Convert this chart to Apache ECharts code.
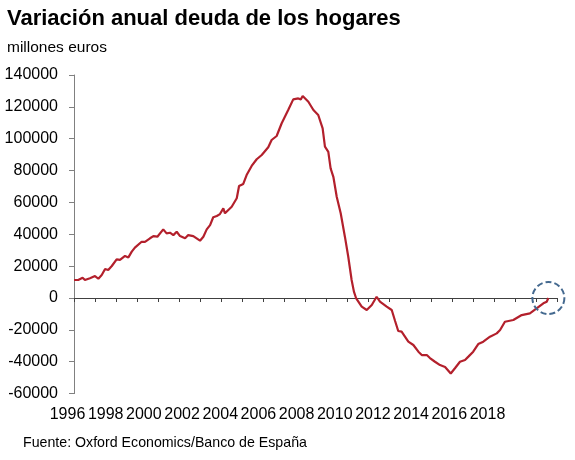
<!DOCTYPE html>
<html>
<head>
<meta charset="utf-8">
<script src="https://cdn.jsdelivr.net/npm/echarts@6/dist/echarts.min.js"></script>
<style>html,body{margin:0;padding:0;background:#fff}#c{width:575px;height:460px}</style>
</head>
<body>
<div id="c"></div>
<script>
// Time in years since Jan 1996 (decimal)
const yearsSince1996 = [0.00,0.20,0.41,0.52,0.76,1.00,1.16,1.32,1.48,1.63,1.80,2.03,2.19,2.43,2.59,2.75,2.90,3.22,3.38,3.62,3.78,3.97,4.25,4.41,4.57,4.73,4.89,5.05,5.29,5.44,5.68,6.00,6.16,6.32,6.48,6.63,6.80,6.95,7.11,7.19,7.51,7.75,7.86,8.06,8.22,8.46,8.70,8.94,9.25,9.41,9.65,9.89,10.20,10.44,10.68,10.80,10.89,11.16,11.40,11.63,11.84,11.95,12.11,12.22,12.35,12.51,12.70,12.90,13.06,13.22,13.33,13.43,13.70,13.94,14.18,14.41,14.57,14.89,15.13,15.29,15.44,15.60,15.68,15.92,16.16,16.40,16.56,16.80,16.95,17.19,17.43,17.67,17.94,18.14,18.38,18.62,18.78,19.01,19.25,19.49,19.81,20.13,20.29,20.52,20.92,21.32,21.71,22.03,22.35,22.51,22.59];
// Annual change in household debt, million euros
const debtChange = [11300,11300,12700,11300,12400,13800,12100,14400,18200,17600,20100,24300,23900,26400,25500,29100,31600,35300,35300,37500,38900,38500,43100,40600,41000,39500,41600,38900,37500,39500,38900,36000,38500,43100,45800,50700,51500,52700,56300,53200,57300,62600,70300,71600,77200,82900,87100,89800,94600,99200,101700,109700,118000,124700,125300,124700,126800,123200,118000,114900,106500,95000,91800,81400,76100,63600,53200,38500,25900,11300,4000,0,-5400,-7500,-4400,800,-2300,-5400,-7500,-14400,-20700,-21100,-22000,-27400,-29500,-33700,-35800,-35800,-37700,-40000,-42100,-43300,-47400,-44100,-40000,-38900,-36800,-33700,-28900,-27400,-24300,-22200,-20100,-14900,-13800,-10700,-9600,-6500,-3300,-2300,0];
const yearLabels = [1996,1998,2000,2002,2004,2006,2008,2010,2012,2014,2016,2018];
const yTicks = [-60000,-40000,-20000,0,20000,40000,60000,80000,100000,120000,140000];

const FONT = "'Liberation Sans', Arial, sans-serif";
const seriesData = yearsSince1996.map((t, i) => [t, debtChange[i]]);
const lastIdx = debtChange.length - 1;

const chart = echarts.init(document.getElementById('c'), null, {renderer: 'canvas'});
chart.setOption({
  animation: false,
  backgroundColor: '#ffffff',
  textStyle: {fontFamily: FONT},
  title: [
    {text: 'Variación anual deuda de los hogares', left: 2, top: 3,
     textStyle: {fontFamily: FONT, fontSize: 22, fontWeight: 'bold', color: '#000'}},
    {text: 'millones euros', left: 2, top: 35,
     textStyle: {fontFamily: FONT, fontSize: 15.5, fontWeight: 'normal', color: '#000'}},
    {text: 'Fuente: Oxford Economics/Banco de España', left: 18, top: 431,
     textStyle: {fontFamily: FONT, fontSize: 14.2, fontWeight: 'normal', color: '#000'}}
  ],
  grid: [
    {left: 74, right: 18, top: 75, bottom: 66.4, containLabel: false},
    {left: 67.5, right: 87.5, top: 75, bottom: 66.4, containLabel: false}
  ],
  xAxis: [
    {type: 'value', gridIndex: 0, min: 0, max: 23, interval: 1,
     axisLine: {show: true, onZero: true, lineStyle: {color: '#404040', width: 1}},
     axisTick: {show: true, inside: false, length: 4, lineStyle: {color: '#404040'}},
     axisLabel: {show: false}, splitLine: {show: false}},
    {type: 'value', gridIndex: 1, min: yearLabels[0], max: yearLabels[yearLabels.length - 1], interval: 2,
     position: 'bottom',
     axisLine: {show: false, onZero: false}, axisTick: {show: false}, splitLine: {show: false},
     axisLabel: {show: true, margin: 13, fontSize: 16, color: '#000', fontFamily: FONT,
       formatter: v => String(v)}}
  ],
  yAxis: [
    {type: 'value', gridIndex: 0, min: yTicks[0], max: yTicks[yTicks.length - 1], interval: 20000,
     axisLine: {show: true, lineStyle: {color: '#808080', width: 1}},
     axisTick: {show: true, inside: false, length: 5, lineStyle: {color: '#808080'}},
     axisLabel: {show: true, margin: 16, fontSize: 16, color: '#000', fontFamily: FONT,
       formatter: v => String(v)},
     splitLine: {show: false}},
    {type: 'value', gridIndex: 1, min: 0, max: 1, show: false}
  ],
  series: [{
    type: 'line',
    xAxisIndex: 0, yAxisIndex: 0,
    data: seriesData,
    showSymbol: false,
    symbol: 'none',
    lineStyle: {color: '#b3202c', width: 2.2},
    markPoint: {
      silent: true,
      symbol: 'circle',
      symbolSize: 32,
      label: {show: false},
      itemStyle: {color: 'rgba(0,0,0,0)', borderColor: '#44698f', borderWidth: 2, borderType: [6, 3]},
      data: [{coord: [yearsSince1996[lastIdx], debtChange[lastIdx]]}]
    }
  }]
});
</script>
</body>
</html>
